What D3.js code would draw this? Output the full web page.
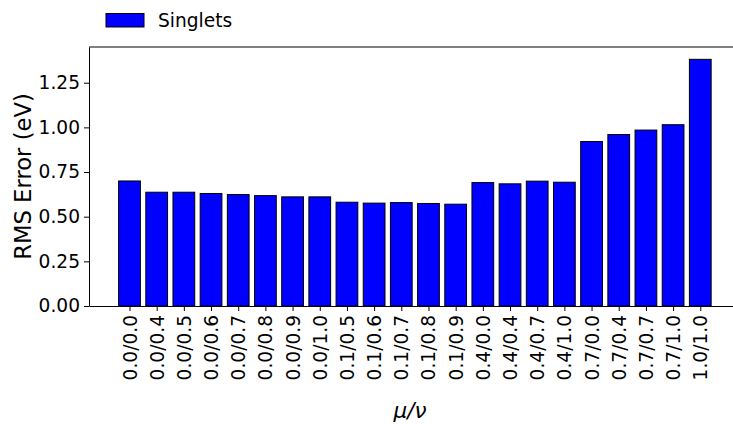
<!DOCTYPE html>
<html lang="en">
<head>
    <meta charset="UTF-8">
    <title>RMS Error by mu/nu</title>
    <script src="https://d3js.org/d3.v7.min.js"></script>
    <style>
        body { margin: 0; background: #fff; font-family: "DejaVu Sans", sans-serif; }
        svg { display: block; }
        .domain, .tick line { stroke: #000; }
    </style>
</head>
<body>
    <svg id="chart" width="733" height="426"></svg>
    <script>
        // Data
        const categories = ["0.0/0.0", "0.0/0.4", "0.0/0.5", "0.0/0.6", "0.0/0.7", "0.0/0.8",
            "0.0/0.9", "0.0/1.0", "0.1/0.5", "0.1/0.6", "0.1/0.7", "0.1/0.8", "0.1/0.9",
            "0.4/0.0", "0.4/0.4", "0.4/0.7", "0.4/1.0", "0.7/0.0", "0.7/0.4", "0.7/0.7",
            "0.7/1.0", "1.0/1.0"];
        const singlets = [0.700, 0.637, 0.637, 0.630, 0.624, 0.618, 0.611, 0.611, 0.581, 0.576,
            0.579, 0.574, 0.570, 0.691, 0.684, 0.699, 0.693, 0.921, 0.960, 0.985, 1.015, 1.381];
        const yTicks = [0, 0.25, 0.5, 0.75, 1.0, 1.25];

        const svg = d3.select("#chart");
        const margin = { left: 89, top: 47, bottom: 306 };
        const step = 27.18;
        const n = categories.length;
        const tickFont = "18.6px";

        // linear x like matplotlib: index -> pixel, with 0.05 margin padding
        const xmin = -0.4 - 0.05 * (n - 1 + 0.8), xmax = n - 1 + 0.4 + 0.05 * (n - 1 + 0.8);
        const x = d3.scaleLinear()
            .domain([xmin, xmax])
            .range([margin.left, margin.left + (xmax - xmin) * step]);

        const ymax = d3.max(singlets) * 1.05;
        const y = d3.scaleLinear().domain([0, ymax]).range([margin.bottom, margin.top]);

        // bars
        svg.append("g").selectAll("rect")
            .data(singlets)
            .join("rect")
            .attr("x", (d, i) => x(i - 0.4))
            .attr("width", x(0.4) - x(-0.4))
            .attr("y", d => y(d))
            .attr("height", d => y(0) - y(d))
            .attr("fill", "#0000ff")
            .attr("stroke", "#000")
            .attr("stroke-width", 1);

        // top spine
        svg.append("line")
            .attr("x1", x(xmin)).attr("x2", x(xmax))
            .attr("y1", y(ymax)).attr("y2", y(ymax))
            .attr("stroke", "#000");

        // y axis
        const yAxis = svg.append("g")
            .attr("transform", `translate(${margin.left},0)`)
            .call(d3.axisLeft(y).tickValues(yTicks).tickFormat(d3.format(".2f"))
                .tickSize(5).tickPadding(4).tickSizeOuter(0));
        yAxis.attr("font-family", "DejaVu Sans").attr("font-size", tickFont);

        // x axis
        const xAxis = svg.append("g")
            .attr("transform", `translate(0,${margin.bottom})`)
            .call(d3.axisBottom(x).tickValues(d3.range(n)).tickFormat(i => categories[i])
                .tickSize(5).tickSizeOuter(0));
        xAxis.attr("font-family", "DejaVu Sans").attr("font-size", tickFont);
        xAxis.selectAll("text")
            .attr("transform", "rotate(-90)")
            .attr("text-anchor", "end")
            .attr("dy", "0.35em")
            .attr("x", -9)
            .attr("y", 0);

        // axis labels
        svg.append("text")
            .attr("transform", `translate(31,${(margin.top + margin.bottom) / 2}) rotate(-90)`)
            .attr("text-anchor", "middle")
            .style("font-size", "22.7px")
            .text("RMS Error (eV)");

        svg.append("text")
            .attr("x", 410).attr("y", 418)
            .attr("text-anchor", "middle")
            .style("font-size", "21.5px")
            .style("font-style", "italic")
            .text("\u03bc/\u03bd");

        // legend
        svg.append("rect")
            .attr("x", 106).attr("y", 13.5).attr("width", 38).attr("height", 13.5)
            .attr("fill", "#0000ff").attr("stroke", "#000");
        svg.append("text")
            .attr("x", 158).attr("y", 27)
            .style("font-size", "18.6px")
            .text("Singlets");
    </script>
</body>
</html>
